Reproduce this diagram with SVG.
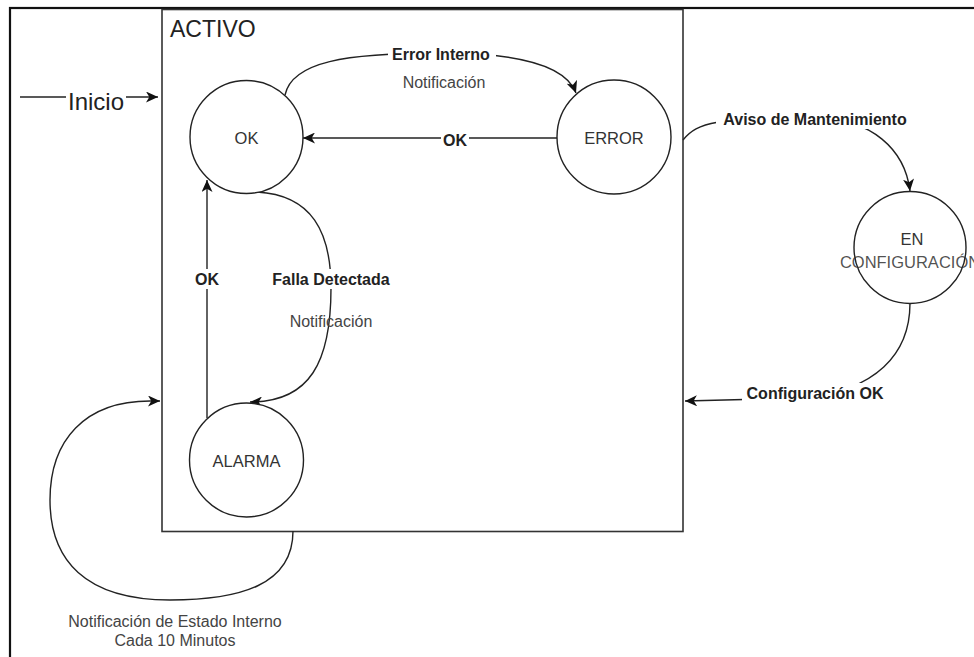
<svg xmlns="http://www.w3.org/2000/svg" width="974" height="657" viewBox="0 0 974 657">
  <style>
    .state { fill: #ffffff; stroke: #222222; stroke-width: 1.4; }
    .state-label { font-family: "Liberation Sans", Arial, sans-serif; font-size: 16.5px; fill: #333333; text-anchor: middle; dominant-baseline: central; }
    .edge { fill: none; stroke: #222222; stroke-width: 1.4; }
    .edge-label { font-family: "Liberation Sans", Arial, sans-serif; font-size: 16px; font-weight: bold; fill: #222222; text-anchor: middle; dominant-baseline: central; }
    .note { font-family: "Liberation Sans", Arial, sans-serif; font-size: 16px; fill: #444444; text-anchor: middle; dominant-baseline: central; }
    .bg { fill: #ffffff; stroke: none; }
  </style>
  <defs>
    <marker id="arrow" markerUnits="userSpaceOnUse" markerWidth="13" markerHeight="11" refX="12" refY="5.5" orient="auto">
      <path d="M0,0 L12,5.5 L0,11 L3.3,5.5 z" fill="#111111"/>
    </marker>
  </defs>

  <rect x="0" y="0" width="974" height="657" fill="#ffffff"/>
  <!-- page frame -->
  <rect x="10" y="8" width="1000" height="700" fill="none" stroke="#111111" stroke-width="2.2"/>

  <!-- composite state ACTIVO -->
  <g id="activo">
    <rect x="162" y="9.5" width="521" height="522" fill="none" stroke="#333333" stroke-width="1.6"/>
    <text x="170" y="29" font-family="Liberation Sans, Arial, sans-serif" font-size="23px" fill="#222222" dominant-baseline="central">ACTIVO</text>
  </g>

  <g id="connectors">
    <!-- Inicio -->
    <path class="edge" d="M20,97 L158,97" marker-end="url(#arrow)"/>
    <rect class="bg" x="66" y="86" width="60" height="26"/>
    <text x="96" y="101" font-family="Liberation Sans, Arial, sans-serif" font-size="24px" fill="#222222" text-anchor="middle" dominant-baseline="central">Inicio</text>

    <!-- OK -> ERROR -->
    <path class="edge" d="M285,95 C292,62 345,53 441,53 C520,53 566,66 576,93" marker-end="url(#arrow)"/>
    <rect class="bg" x="388" y="44" width="108" height="20"/>
    <text class="edge-label" x="441" y="54">Error Interno</text>
    <text class="note" x="444" y="82">Notificación</text>

    <!-- ERROR -> OK -->
    <path class="edge" d="M557,138 L303,138" marker-end="url(#arrow)"/>
    <rect class="bg" x="441" y="130" width="28" height="20"/>
    <text class="edge-label" x="455" y="140">OK</text>

    <!-- OK -> ALARMA -->
    <path class="edge" d="M257,192 C312,195 331,232 331,288 C331,362 310,402 250,402" marker-end="url(#arrow)"/>
    <rect class="bg" x="268" y="269" width="126" height="20"/>
    <text class="edge-label" x="331" y="279">Falla Detectada</text>
    <text class="note" x="331" y="321">Notificación</text>

    <!-- ALARMA -> OK -->
    <path class="edge" d="M207,418 L207,180" marker-end="url(#arrow)"/>
    <rect class="bg" x="193" y="269" width="28" height="20"/>
    <text class="edge-label" x="207" y="279">OK</text>

    <!-- ACTIVO -> EN CONFIGURACIÓN -->
    <path class="edge" d="M683,140 C698,122 716,118 815,118 C872,118 905,150 910,191" marker-end="url(#arrow)"/>
    <rect class="bg" x="716" y="109" width="198" height="20"/>
    <text class="edge-label" x="815" y="119">Aviso de Mantenimiento</text>

    <!-- EN CONFIGURACIÓN -> ACTIVO -->
    <path class="edge" d="M910,303 C910,355 875,390 805,398 L685,401" marker-end="url(#arrow)"/>
    <rect class="bg" x="742" y="383" width="148" height="20"/>
    <text class="edge-label" x="815" y="393">Configuración OK</text>

    <!-- ACTIVO self transition -->
    <path class="edge" d="M293,531 C293,585 240,600 170,600 C85,600 50,560 50,500 C50,440 85,401 150,401 L160,401" marker-end="url(#arrow)"/>
    <text class="note" x="175" y="621">Notificación de Estado Interno</text>
    <text class="note" x="175" y="640">Cada 10 Minutos</text>
  </g>

  <g id="ok">
    <circle class="state" cx="246.5" cy="137" r="56.5"/>
    <text class="state-label" x="246.5" y="138">OK</text>
  </g>
  <g id="error">
    <circle class="state" cx="614" cy="137" r="57"/>
    <text class="state-label" x="614" y="138">ERROR</text>
  </g>
  <g id="alarma">
    <circle class="state" cx="246.5" cy="460" r="57"/>
    <text class="state-label" x="246.5" y="461">ALARMA</text>
  </g>
  <g id="en-configuracion">
    <circle class="state" cx="910" cy="247.5" r="56"/>
    <text class="state-label" x="912" y="239">EN</text>
    <text class="state-label" x="910" y="262" fill-opacity="0.85">CONFIGURACIÓN</text>
  </g>
</svg>
